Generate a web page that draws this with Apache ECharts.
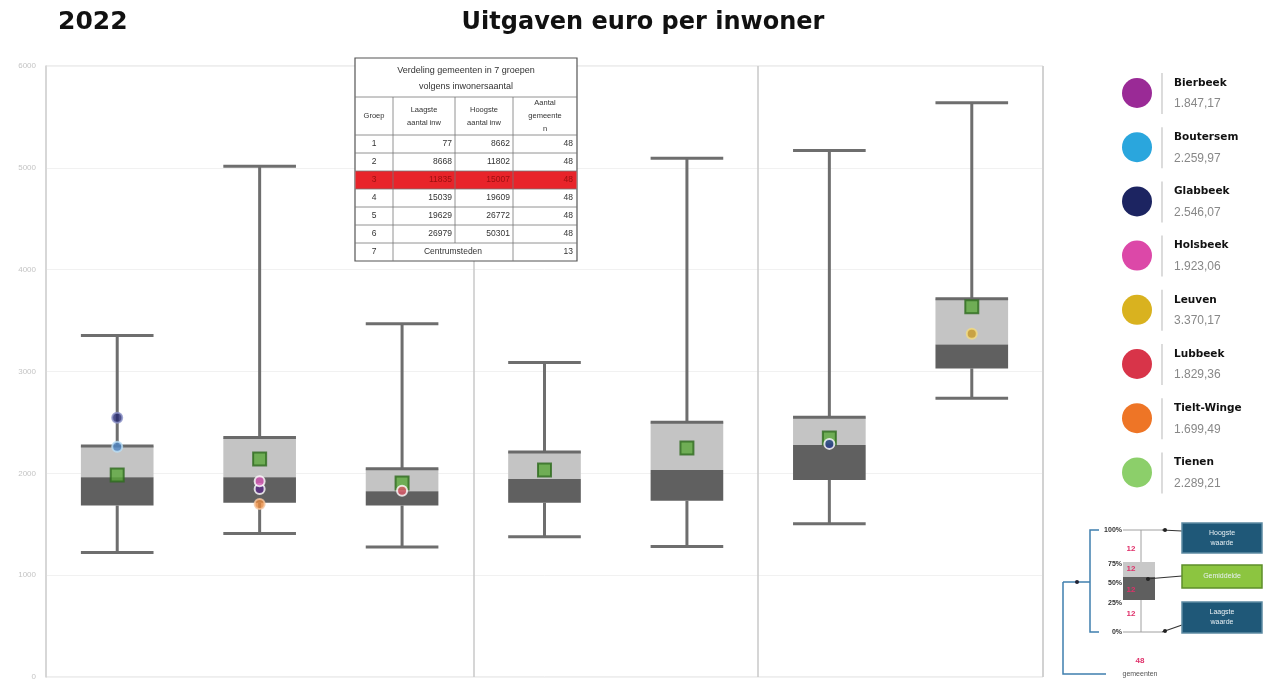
<!DOCTYPE html>
<html><head><meta charset="utf-8">
<script src="https://cdn.jsdelivr.net/npm/echarts@6/dist/echarts.min.js"></script>
<style>html,body{margin:0;padding:0;background:#fff}#c{width:1267px;height:681px}</style>
</head><body><div id="c"></div>
<script>
// ---- data ----
const groups = ['1','2','3','4','5','6','7'];
const whiskerLow  = [1222, 1410, 1277, 1378, 1281, 1505, 2737];
const q1          = [1684, 1711, 1684, 1711, 1730, 1935, 3030];
const median      = [1962, 1961, 1824, 1945, 2033, 2278, 3265];
const q3          = [2268, 2353, 2045, 2209, 2502, 2551, 3714];
const whiskerHigh = [3353, 5015, 3469, 3089, 5093, 5171, 5640];
const groupMean   = [1984, 2141, 1905, 2033, 2248, 2346, 3636];

const muniNames  = ['Bierbeek','Boutersem','Glabbeek','Holsbeek','Leuven','Lubbeek','Tielt-Winge','Tienen'];
const muniValues = [1847.17, 2259.97, 2546.07, 1923.06, 3370.17, 1829.36, 1699.49, 2289.21];
const muniGroup  = [1, 0, 0, 1, 6, 2, 1, 5];
const legendColors = ['#9a2a96','#2aa6dd','#1c2461','#dc48a8','#d9b21f','#d83449','#ee7526','#8ccf6a'];
const markerColors = ['#5b2a86','#4d86c4','#22266e','#dc5cbc','#c99a25','#e05a6a','#e8883c','#2c3f94'];
const markerBorders= ['#ffffff','#bde0f5','#8d93c8','#ffffff','#f3dc85','#ffffff','#f6c7a0','#ffffff'];

const yTicks = [0,1000,2000,3000,4000,5000,6000];

const tableTitle = 'Verdeling gemeenten in 7 groepen\nvolgens inwonersaantal';
const tableHeader = ['Groep','Laagste\naantal inw','Hoogste\naantal inw','Aantal\ngemeente\nn'];
const tableGroup = ['1','2','3','4','5','6','7'];
const tableLow   = ['77','8668','11835','15039','19629','26979','Centrumsteden'];
const tableHigh  = ['8662','11802','15007','19609','26772','50301',''];
const tableCount = ['48','48','48','48','48','48','13'];
const highlightRow = 2;

const diagPct = ['100%','75%','50%','25%','0%'];
const diagCounts = ['12','12','12','12'];
const diagBoxes = ['Hoogste\nwaarde','Gemiddelde','Laagste\nwaarde'];
const diagTotal = ['48','gemeenten'];

function nl(v){ const s=v.toFixed(2).split('.'); return s[0].replace(/\B(?=(\d{3})+(?!\d))/g,'.')+','+s[1]; }

const boxData = groups.map((g,i)=>[i, whiskerLow[i], q1[i], median[i], q3[i], whiskerHigh[i]]);

const chart = echarts.init(document.getElementById('c'), null, {renderer:'canvas'});

// ---- graphic elements ----
const G = [];
G.push({type:'text', left:58, top:10, z:100, style:{text:'2022', font:'bold 25px "DejaVu Sans"', fill:'#111'}});
G.push({type:'text', x:643, y:23, z:100, style:{text:'Uitgaven euro per inwoner', font:'bold 24px "DejaVu Sans"', fill:'#111', textAlign:'center', textVerticalAlign:'middle'}});

// table
const tx = [355, 393, 455, 513, 577];
const ty0 = 58, tyT = 97, tyH = 135, rowH = 18;
const tbl = [];
tbl.push({type:'rect', shape:{x:tx[0], y:ty0, width:tx[4]-tx[0], height:tyH+rowH*7-ty0}, style:{fill:'#fff', stroke:'#555', lineWidth:1.2}});
tbl.push({type:'rect', shape:{x:tx[0]+0.5, y:tyH+rowH*highlightRow, width:tx[4]-tx[0]-1, height:rowH}, style:{fill:'#e8242a'}});
tbl.push({type:'text', style:{text:tableTitle, x:(tx[0]+tx[4])/2, y:(ty0+tyT)/2+1, textAlign:'center', textVerticalAlign:'middle', font:'9px "Liberation Sans"', fill:'#333', lineHeight:16}});
const lineSt = {stroke:'#777', lineWidth:0.8};
tbl.push({type:'line', shape:{x1:tx[0],y1:tyT,x2:tx[4],y2:tyT}, style:lineSt});
for (let r=0;r<=6;r++){ const y=tyH+rowH*r; tbl.push({type:'line', shape:{x1:tx[0],y1:y,x2:tx[4],y2:y}, style:lineSt}); }
for (let c=1;c<=3;c++){
  tbl.push({type:'line', shape:{x1:tx[c],y1:tyT,x2:tx[c],y2:(c===2? tyH+rowH*6 : tyH+rowH*7)}, style:lineSt});
}
tableHeader.forEach((h,c)=>{
  tbl.push({type:'text', style:{text:h, x:(tx[c]+tx[c+1])/2, y:(tyT+tyH)/2, textAlign:'center', textVerticalAlign:'middle', font:'7.5px "Liberation Sans"', fill:'#333', lineHeight:13}});
});
for (let r=0;r<7;r++){
  const yc = tyH+rowH*r+rowH/2;
  const col = r===highlightRow ? '#9a1010' : '#333';
  tbl.push({type:'text', style:{text:tableGroup[r], x:(tx[0]+tx[1])/2, y:yc, textAlign:'center', textVerticalAlign:'middle', font:'8.5px "Liberation Sans"', fill:col}});
  if (r===6){
    tbl.push({type:'text', style:{text:tableLow[r], x:(tx[1]+tx[3])/2, y:yc, textAlign:'center', textVerticalAlign:'middle', font:'8.5px "Liberation Sans"', fill:col}});
  } else {
    tbl.push({type:'text', style:{text:tableLow[r], x:tx[2]-3, y:yc, textAlign:'right', textVerticalAlign:'middle', font:'8.5px "Liberation Sans"', fill:col}});
    tbl.push({type:'text', style:{text:tableHigh[r], x:tx[3]-3, y:yc, textAlign:'right', textVerticalAlign:'middle', font:'8.5px "Liberation Sans"', fill:col}});
  }
  tbl.push({type:'text', style:{text:tableCount[r], x:tx[4]-4, y:yc, textAlign:'right', textVerticalAlign:'middle', font:'8.5px "Liberation Sans"', fill:col}});
}
tbl.forEach(e=>{ e.z = 100; G.push(e); });

// legend
muniNames.forEach((n,i)=>{
  const cy = 93 + 54.2*i;
  G.push({type:'circle', z:100, shape:{cx:1137, cy:cy, r:15}, style:{fill:legendColors[i]}});
  G.push({type:'line', z:100, shape:{x1:1162,y1:cy-20,x2:1162,y2:cy+21}, style:{stroke:'#c4c4c4', lineWidth:1.2}});
  G.push({type:'text', z:100, style:{text:n, x:1174, y:cy-10, textVerticalAlign:'middle', font:'bold 10.5px "DejaVu Sans"', fill:'#111'}});
  G.push({type:'text', z:100, style:{text:nl(muniValues[i]), x:1174, y:cy+11, textVerticalAlign:'middle', font:'12px "Liberation Sans"', fill:'#888'}});
});

// explanatory diagram
const dg = [];
const blue = {stroke:'#3f7fae', lineWidth:1.5, fill:null};
dg.push({type:'polyline', shape:{points:[[1099,530],[1090,530],[1090,632],[1099,632]]}, style:blue});
dg.push({type:'line', shape:{x1:1090,y1:582,x2:1063,y2:582}, style:blue});
dg.push({type:'polyline', shape:{points:[[1063,582],[1063,674],[1106,674]]}, style:blue});
dg.push({type:'circle', shape:{cx:1077, cy:582, r:2}, style:{fill:'#223'}});
const gw = {stroke:'#a0a0a0', lineWidth:1};
dg.push({type:'line', shape:{x1:1141,y1:530,x2:1141,y2:632}, style:gw});
dg.push({type:'line', shape:{x1:1123,y1:530,x2:1162,y2:530}, style:gw});
dg.push({type:'line', shape:{x1:1123,y1:632,x2:1162,y2:632}, style:gw});
dg.push({type:'rect', shape:{x:1123,y:562,width:32,height:15}, style:{fill:'#c8c8c8'}});
dg.push({type:'rect', shape:{x:1123,y:577,width:32,height:23}, style:{fill:'#5f5f5f'}});
const pctY = [530,564,583,603,632];
diagPct.forEach((t,i)=>dg.push({type:'text', style:{text:t, x:1122, y:pctY[i], textAlign:'right', textVerticalAlign:'middle', font:'bold 7px "Liberation Sans"', fill:'#333'}}));
const cntY = [549,569,590,614];
diagCounts.forEach((t,i)=>dg.push({type:'text', style:{text:t, x:1131, y:cntY[i], textAlign:'center', textVerticalAlign:'middle', font:'bold 8px "Liberation Sans"', fill:'#e0306a'}}));
const ar = {stroke:'#333', lineWidth:1.2};
dg.push({type:'line', shape:{x1:1182,y1:531,x2:1162,y2:530}, style:ar});
dg.push({type:'circle', shape:{cx:1165, cy:530, r:2}, style:{fill:'#222'}});
dg.push({type:'line', shape:{x1:1182,y1:576,x2:1146,y2:579}, style:ar});
dg.push({type:'circle', shape:{cx:1148, cy:579, r:2}, style:{fill:'#222'}});
dg.push({type:'line', shape:{x1:1182,y1:625,x2:1162,y2:632}, style:ar});
dg.push({type:'circle', shape:{cx:1165, cy:631, r:2}, style:{fill:'#222'}});
const boxY = [[523,30],[565,23],[602,31]];
const boxFill = ['#1f5878','#8cc540','#1f5878'];
const boxStroke = ['#5d8aa3','#5e8f2a','#5d8aa3'];
diagBoxes.forEach((t,i)=>{
  dg.push({type:'rect', shape:{x:1182,y:boxY[i][0],width:80,height:boxY[i][1]}, style:{fill:boxFill[i], stroke:boxStroke[i], lineWidth:1.5}});
  dg.push({type:'text', style:{text:t, x:1222, y:boxY[i][0]+boxY[i][1]/2, textAlign:'center', textVerticalAlign:'middle', font:'7px "Liberation Sans"', fill:'#e8f0f4', lineHeight:10}});
});
dg.push({type:'text', style:{text:diagTotal[0], x:1140, y:661, textAlign:'center', textVerticalAlign:'middle', font:'bold 8px "Liberation Sans"', fill:'#e0306a'}});
dg.push({type:'text', style:{text:diagTotal[1], x:1140, y:674, textAlign:'center', textVerticalAlign:'middle', font:'7px "Liberation Sans"', fill:'#555'}});
dg.forEach(e=>{ e.z = 100; G.push(e); });

// ---- series ----
const series = [{
  type:'custom', name:'box', z:2,
  data: boxData,
  encode:{x:0, y:[1,2,3,4,5]},
  renderItem: function(params, api){
    const x = api.value(0);
    const pMin = api.coord([x, api.value(1)]);
    const pQ1 = api.coord([x, api.value(2)]);
    const pMed = api.coord([x, api.value(3)]);
    const pQ3 = api.coord([x, api.value(4)]);
    const pMax = api.coord([x, api.value(5)]);
    const w = api.size([1,0])[0]*0.51;
    const cx = pMin[0];
    const ls = {stroke:'#6e6e6e', lineWidth:3};
    return {type:'group', children:[
      {type:'line', shape:{x1:cx,y1:pMax[1],x2:cx,y2:pQ3[1]}, style:ls},
      {type:'line', shape:{x1:cx,y1:pQ1[1],x2:cx,y2:pMin[1]}, style:ls},
      {type:'line', shape:{x1:cx-w/2,y1:pMax[1],x2:cx+w/2,y2:pMax[1]}, style:ls},
      {type:'line', shape:{x1:cx-w/2,y1:pMin[1],x2:cx+w/2,y2:pMin[1]}, style:ls},
      {type:'rect', shape:{x:cx-w/2,y:pQ3[1],width:w,height:pMed[1]-pQ3[1]}, style:{fill:'#c4c4c4'}},
      {type:'rect', shape:{x:cx-w/2,y:pMed[1],width:w,height:pQ1[1]-pMed[1]}, style:{fill:'#606060'}},
      {type:'line', shape:{x1:cx-w/2,y1:pQ3[1],x2:cx+w/2,y2:pQ3[1]}, style:{stroke:'#6a6a6a', lineWidth:3}}
    ]};
  }
},{
  type:'scatter', name:'Gemiddelde', z:3, symbol:'rect', symbolSize:13,
  data: groupMean.map((v,i)=>[i,v]),
  itemStyle:{color:'#5aa83a', borderColor:'#2e6a1e', borderWidth:2}
}];
muniNames.forEach((n,i)=>{
  series.push({type:'scatter', name:n, z:4, symbol:'circle', symbolSize:10,
    data:[[muniGroup[i], muniValues[i]]],
    itemStyle:{color:markerColors[i], borderColor:markerBorders[i], borderWidth:2}});
});

chart.setOption({
  animation:false,
  backgroundColor:'#fff',
  grid:{left:46, right:224, top:66, bottom:1, show:true, borderColor:'#dcdcdc', borderWidth:1},
  xAxis:{type:'category', data:groups, boundaryGap:true,
    axisLine:{show:false}, axisTick:{show:false}, axisLabel:{show:false},
    splitLine:{show:true, interval:function(idx){return idx===3||idx===5;}, lineStyle:{color:'#c8c8c8', width:1.5}}},
  yAxis:{type:'value', min:yTicks[0], max:yTicks[yTicks.length-1], interval:1000,
    axisLine:{show:true, lineStyle:{color:'#cfcfcf', width:1.5}},
    axisTick:{show:false},
    axisLabel:{color:'#c4c4c4', fontSize:8, margin:10, fontFamily:'Liberation Sans', formatter:function(v){return String(v);}},
    splitLine:{show:true, lineStyle:{color:'#f1f1f1', width:1}}},
  series: series,
  graphic: G
});
</script></body></html>
